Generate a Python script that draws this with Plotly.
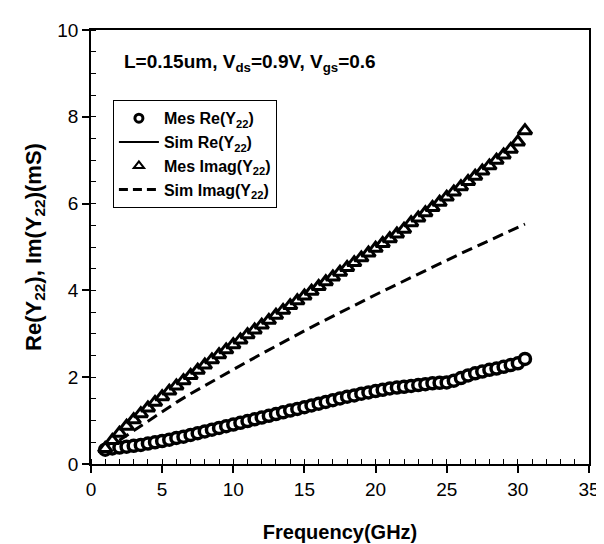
import plotly.graph_objects as go

# Measured frequency points (GHz)
freq_mes = [1.0, 1.5, 2.0, 2.5, 3.0, 3.5, 4.0, 4.5, 5.0, 5.5, 6.0, 6.5, 7.0, 7.5, 8.0, 8.5,
            9.0, 9.5, 10.0, 10.5, 11.0, 11.5, 12.0, 12.5, 13.0, 13.5, 14.0, 14.5, 15.0, 15.5,
            16.0, 16.5, 17.0, 17.5, 18.0, 18.5, 19.0, 19.5, 20.0, 20.5, 21.0, 21.5, 22.0, 22.5,
            23.0, 23.5, 24.0, 24.5, 25.0, 25.5, 26.0, 26.5, 27.0, 27.5, 28.0, 28.5, 29.0, 29.5,
            30.0, 30.5]

mes_re = [0.33, 0.36, 0.38, 0.40, 0.42, 0.44, 0.47, 0.50, 0.53, 0.56, 0.60, 0.63, 0.67, 0.71,
          0.75, 0.79, 0.83, 0.87, 0.91, 0.95, 0.99, 1.03, 1.07, 1.11, 1.15, 1.19, 1.23, 1.27,
          1.31, 1.35, 1.39, 1.43, 1.47, 1.51, 1.55, 1.58, 1.62, 1.65, 1.68, 1.71, 1.74, 1.76,
          1.78, 1.80, 1.82, 1.84, 1.86, 1.87, 1.88, 1.92, 1.98, 2.04, 2.09, 2.13, 2.17, 2.20,
          2.24, 2.28, 2.32, 2.42]

mes_im = [0.36, 0.54, 0.71, 0.87, 1.02, 1.16, 1.29, 1.42, 1.55, 1.68, 1.80, 1.92, 2.04, 2.16,
          2.28, 2.40, 2.52, 2.63, 2.75, 2.86, 2.98, 3.09, 3.20, 3.31, 3.43, 3.54, 3.65, 3.76,
          3.87, 3.98, 4.09, 4.20, 4.31, 4.42, 4.53, 4.64, 4.75, 4.86, 4.97, 5.08, 5.19, 5.30,
          5.41, 5.56, 5.67, 5.79, 5.91, 6.03, 6.15, 6.27, 6.39, 6.51, 6.63, 6.75, 6.87, 7.00,
          7.12, 7.25, 7.42, 7.68]

# Simulated curves
freq_sim = [1, 2, 3, 4, 5, 6, 7, 8, 9, 10, 11, 12, 13, 14, 15, 16, 17, 18, 19, 20,
            21, 22, 23, 24, 25, 26, 27, 28, 29, 30, 30.5]
sim_re = [0.33, 0.37, 0.41, 0.46, 0.52, 0.59, 0.66, 0.74, 0.82, 0.90, 0.98, 1.06, 1.14, 1.22,
          1.30, 1.38, 1.46, 1.54, 1.61, 1.68, 1.74, 1.79, 1.83, 1.87, 1.92, 1.98, 2.08, 2.16,
          2.23, 2.31, 2.36]
sim_im = [0.33, 0.55, 0.78, 1.00, 1.21, 1.42, 1.62, 1.81, 2.00, 2.18, 2.36, 2.54, 2.72, 2.90,
          3.07, 3.24, 3.41, 3.57, 3.74, 3.90, 4.06, 4.22, 4.38, 4.54, 4.69, 4.85, 5.00, 5.15,
          5.30, 5.45, 5.53]

x_ticks = [0, 5, 10, 15, 20, 25, 30, 35]
y_ticks = [0, 2, 4, 6, 8, 10]

FONT = "Liberation Sans, Arial, sans-serif"

fig = go.Figure()

# data traces (legend handled by proxy entries below)
fig.add_trace(go.Scatter(
    x=freq_sim, y=sim_re, mode="lines", showlegend=False,
    line=dict(color="black", width=2)))
fig.add_trace(go.Scatter(
    x=freq_sim, y=sim_im, mode="lines", showlegend=False,
    line=dict(color="black", width=3, dash="11px,6px")))
fig.add_trace(go.Scatter(
    x=freq_mes, y=mes_re, mode="markers", showlegend=False,
    marker=dict(symbol="circle", size=11, color="white",
                line=dict(color="black", width=3.5))))
fig.add_trace(go.Scatter(
    x=freq_mes, y=mes_im, mode="markers", showlegend=False,
    marker=dict(symbol="triangle-up", size=12, color="white",
                line=dict(color="black", width=3))))

# legend entries
fig.add_trace(go.Scatter(
    x=[None], y=[None], mode="markers", name="<b>Mes Re(Y<sub>22</sub>)</b>",
    marker=dict(symbol="circle", size=8, color="white",
                line=dict(color="black", width=3))))
fig.add_trace(go.Scatter(
    x=[None], y=[None], mode="lines", name="<b>Sim Re(Y<sub>22</sub>)</b>",
    line=dict(color="black", width=2)))
fig.add_trace(go.Scatter(
    x=[None], y=[None], mode="markers", name="<b>Mes Imag(Y<sub>22</sub>)</b>",
    marker=dict(symbol="triangle-up", size=9, color="white",
                line=dict(color="black", width=2))))
fig.add_trace(go.Scatter(
    x=[None], y=[None], mode="lines", name="<b>Sim Imag(Y<sub>22</sub>)</b>",
    line=dict(color="black", width=3, dash="9px,5px")))

fig.add_annotation(
    x=0.062, y=0.925, xref="paper", yref="paper", xanchor="left", yanchor="middle",
    text="<b>L=0.15um, V<sub>ds</sub>=0.9V, V<sub>gs</sub>=0.6</b>",
    showarrow=False, font=dict(family=FONT, size=19, color="black"))

fig.update_layout(
    width=604, height=544,
    margin=dict(l=83, r=21, t=17, b=88),
    paper_bgcolor="white", plot_bgcolor="white",
    font=dict(family=FONT, color="black"),
    showlegend=True,
    legend=dict(x=0.044, y=0.838, xanchor="left", yanchor="top",
                bgcolor="white", bordercolor="black", borderwidth=1,
                font=dict(family=FONT, size=16, color="black"),
                tracegroupgap=0, itemwidth=40),
    xaxis=dict(range=[0, 35], tickvals=x_ticks, ticks="outside", ticklen=7,
               tickwidth=1.5, tickcolor="black", showline=True, linecolor="black",
               linewidth=1.5, mirror=True, showgrid=False, zeroline=False,
               tickfont=dict(family=FONT, size=19, color="black"),
               minor=dict(dtick=1, ticks="inside", ticklen=5, tickcolor="black",
                          tickwidth=1, showgrid=False),
               title=dict(text="<b>Frequency(GHz)</b>", standoff=26,
                          font=dict(family=FONT, size=20, color="black"))),
    yaxis=dict(range=[0, 10], tickvals=y_ticks, ticks="outside", ticklen=7,
               tickwidth=1.5, tickcolor="black", showline=True, linecolor="black",
               linewidth=1.5, mirror=True, showgrid=False, zeroline=False,
               tickfont=dict(family=FONT, size=19, color="black"),
               minor=dict(dtick=0.5, ticks="inside", ticklen=5, tickcolor="black",
                          tickwidth=1, showgrid=False),
               title=dict(text="<b>Re(Y<sub>22</sub>), Im(Y<sub>22</sub>)(mS)</b>", standoff=10,
                          font=dict(family=FONT, size=22, color="black"))),
)

fig.write_html("out.html")
